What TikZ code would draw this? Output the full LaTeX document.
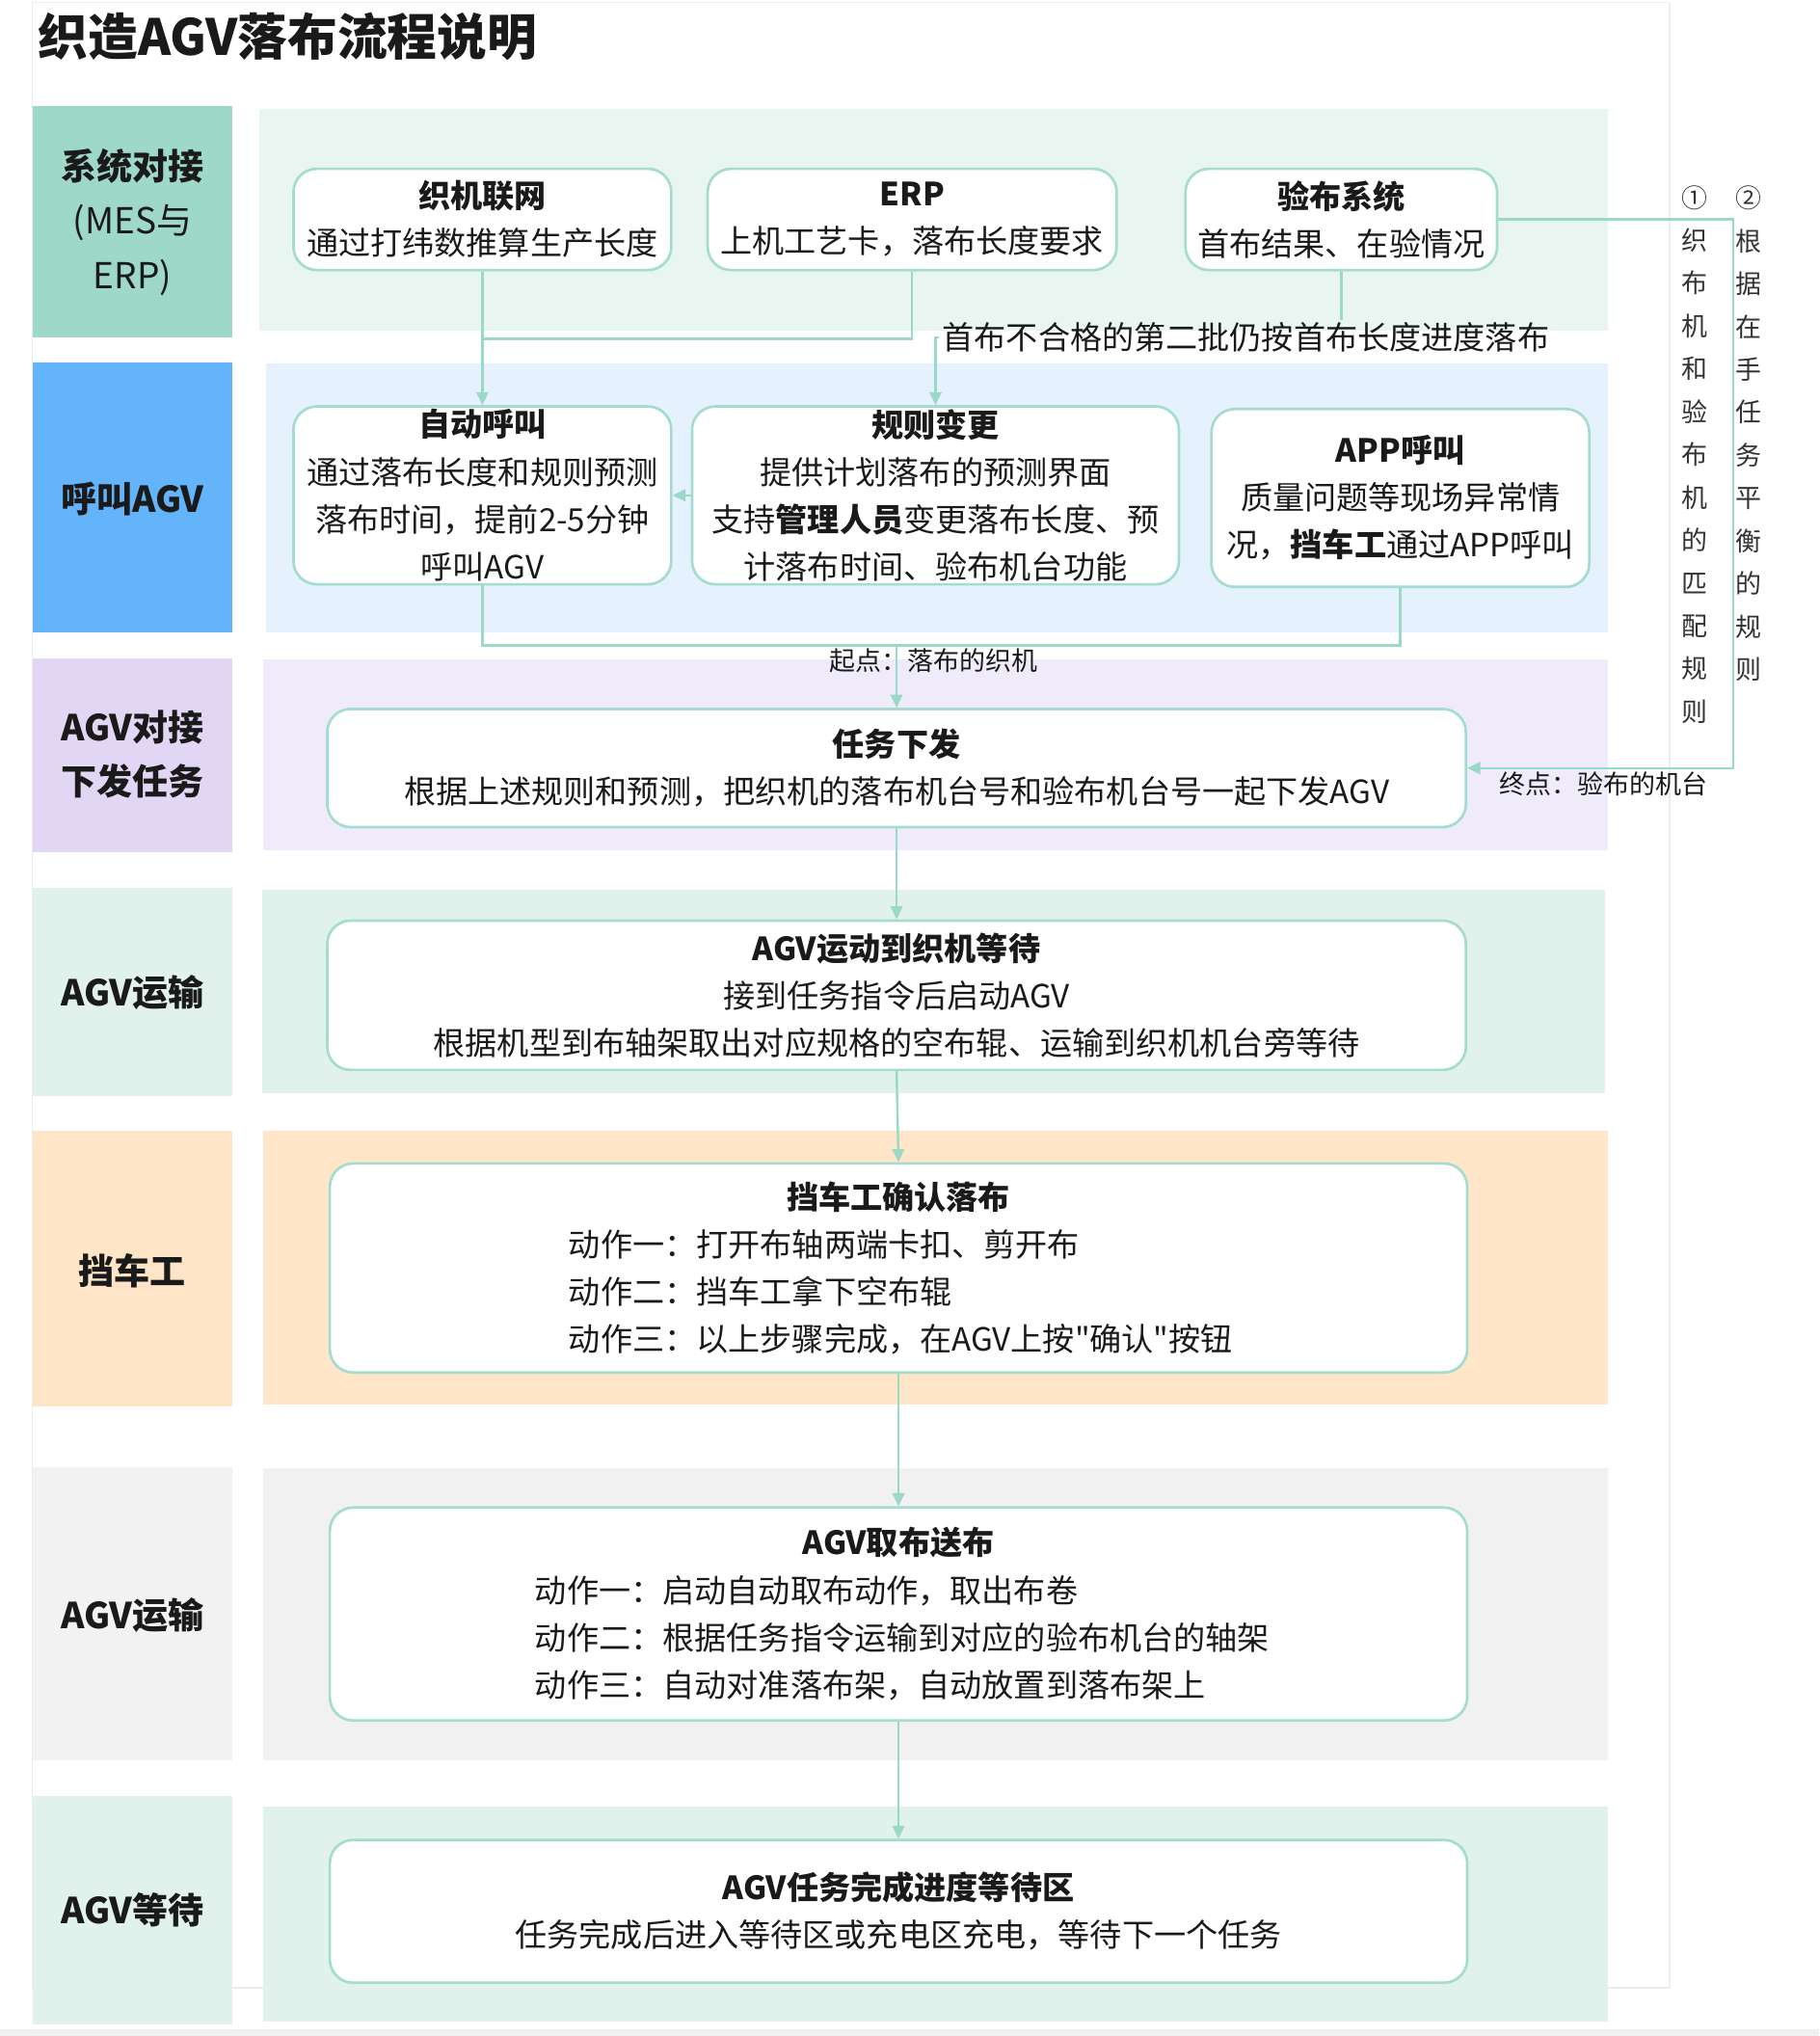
\documentclass[tikz,border=0pt]{standalone}
\usepackage{fontspec}
\setmainfont{Noto Sans CJK SC}
\newfontfamily\nq{Noto Sans CJK SC}
\usetikzlibrary{arrows.meta}
\definecolor{boxc}{HTML}{A4DDCF}
\definecolor{linec}{HTML}{9AD8C8}
\definecolor{lA}{HTML}{9ED8C9}
\definecolor{bA}{HTML}{E8F5F1}
\definecolor{lB}{HTML}{63B4FA}
\definecolor{bB}{HTML}{E5F1FD}
\definecolor{lC}{HTML}{E1D7F5}
\definecolor{bC}{HTML}{EFEBFA}
\definecolor{lD}{HTML}{E1F2EC}
\definecolor{lE}{HTML}{FFE5C8}
\definecolor{bE}{HTML}{FFE6C9}
\definecolor{lF}{HTML}{F2F2F2}
\definecolor{bF}{HTML}{F1F1F1}
\definecolor{framec}{HTML}{EDEDED}
\definecolor{txt}{HTML}{1A1A1A}
\definecolor{vtxt}{HTML}{333333}
\newcommand{\lline}[2]{\makebox[#1][l]{#2}}
\begin{document}
\begin{tikzpicture}[x=0.5pt,y=-0.5pt,
  box/.style={draw=boxc, line width=1pt, fill=white, rounded corners=9pt, align=center, inner sep=0pt, text=txt, font=\fontsize{12.3}{18.25}\selectfont},
  conn/.style={draw=linec, line width=0.9pt},
  arr/.style={conn, -{Triangle[length=5pt,width=4.6pt]}},
  lanelbl/.style={font=\bfseries\fontsize{13.75}{21}\selectfont, align=center, text=txt},
  notelbl/.style={font=\fontsize{12.3}{14}\selectfont, text=txt, inner sep=1pt},
  smalllbl/.style={font=\fontsize{10}{12}\selectfont, text=txt, inner sep=1pt},
  vt/.style={font=\fontsize{10}{16.5}\selectfont, align=center, text=vtxt, inner sep=0pt}
]
\useasboundingbox (0,0) rectangle (1401,1568);
\fill[white] (0,0) rectangle (1401,1568);
\draw[framec, line width=0.6pt] (25,2) rectangle (1286,1531);
\fill[black!6] (0,1563) rectangle (1401,1568);

% title
\node[anchor=west, font=\bfseries\fontsize{19.2}{23}\selectfont, text=txt, inner sep=0pt] (title) at (29,28) {织造AGV落布流程说明};

% lanes
\fill[lA] (25,82) rectangle (179,260);
\fill[bA] (200,84) rectangle (1238,255);
\fill[lB] (25,279) rectangle (179,487);
\fill[bB] (205,280) rectangle (1238,487);
\fill[lC] (25,507) rectangle (179,656);
\fill[bC] (203,508) rectangle (1238,655);
\fill[lD] (25,684) rectangle (179,844);
\fill[lD] (202,685) rectangle (1236,842);
\fill[lE] (25,871) rectangle (179,1083);
\fill[bE] (203,871) rectangle (1238,1082);
\fill[lF] (25,1130) rectangle (179,1356);
\fill[bF] (203,1131) rectangle (1238,1356);
\fill[lD] (25,1383) rectangle (179,1559);
\fill[lD] (203,1391) rectangle (1238,1557);

\node[lanelbl] (t1) at (102,171) {系统对接\\\mdseries (MES与\\\mdseries ERP)};
\node[lanelbl] (t2) at (102,384) {呼叫AGV};
\node[lanelbl] (t3) at (102,581) {AGV对接\\下发任务};
\node[lanelbl] (t4) at (102,764) {AGV运输};
\node[lanelbl] (t5) at (102,979) {挡车工};
\node[lanelbl] (t6) at (102,1244) {AGV运输};
\node[lanelbl] (t7) at (102,1471) {AGV等待};

% boxes
\node[box, minimum width=145.5pt, minimum height=39pt] (jw) at (371.5,169) {\textbf{织机联网}\\通过打纬数推算生产长度};
\node[box, minimum width=157.5pt, minimum height=39pt] (erp) at (702.5,169) {\textbf{ERP}\\上机工艺卡，落布长度要求};
\node[box, minimum width=120pt, minimum height=39pt] (yb) at (1033,169) {\textbf{验布系统}\\首布结果、在验情况};
\node[box, minimum width=145.5pt, minimum height=68.5pt] (zd) at (371.5,381.5) {\textbf{自动呼叫}\\通过落布长度和规则预测\\落布时间，提前2-5分钟\\呼叫AGV};
\node[box, minimum width=187.5pt, minimum height=68.5pt] (gz) at (720.5,381.5) {\textbf{规则变更}\\提供计划落布的预测界面\\支持\textbf{管理人员}变更落布长度、预\\计落布时间、验布机台功能};
\node[box, minimum width=145.5pt, minimum height=68.5pt] (app) at (1078.5,383.5) {\textbf{APP呼叫}\\质量问题等现场异常情\\况，\textbf{挡车工}通过APP呼叫};
\node[box, minimum width=438.5pt, minimum height=45.5pt] (rw) at (690.5,591.5) {\textbf{任务下发}\\根据上述规则和预测，把织机的落布机台号和验布机台号一起下发AGV};
\node[box, minimum width=438.5pt, minimum height=57.5pt] (yd) at (690.5,766.5) {\textbf{AGV运动到织机等待}\\接到任务指令后启动AGV\\根据机型到布轴架取出对应规格的空布辊、运输到织机机台旁等待};
\node[box, minimum width=438pt, minimum height=80.5pt] (dc) at (692,976.5) {\textbf{挡车工确认落布}\\\lline{254pt}{动作一：打开布轴两端卡扣、剪开布}\\\lline{254pt}{动作二：挡车工拿下空布辊}\\\lline{254pt}{动作三：以上步骤完成，在AGV上按{\nq"}确认{\nq"}按钮}};
\node[box, minimum width=438pt, minimum height=82pt] (qb) at (692,1243) {\textbf{AGV取布送布}\\\lline{280pt}{动作一：启动自动取布动作，取出布卷}\\\lline{280pt}{动作二：根据任务指令运输到对应的验布机台的轴架}\\\lline{280pt}{动作三：自动对准落布架，自动放置到落布架上}};
\node[box, minimum width=438pt, minimum height=55pt] (dd) at (692,1472) {\textbf{AGV任务完成进度等待区}\\任务完成后进入等待区或充电区充电，等待下一个任务};

% connectors
\coordinate (j1) at (371.5,261);
\draw[conn] (erp.south) |- (j1);
\draw[arr] (jw.south) -- (zd.north);
\node[notelbl] (note) at (959.5,260) {首布不合格的第二批仍按首布长度进度落布};
\draw[conn] (yb.south) -- (yb.south |- note.north);
\draw[arr] (note.west) -| (gz.north);
\draw[arr] (gz.west) -- (zd.east);
\coordinate (j3) at (690.5,497);
\draw[conn] (zd.south) |- (j3) -| (app.south);
\draw[arr] (j3) -- (rw.north);
\node[smalllbl] (start) at (719,509) {起点：落布的织机};
\coordinate (r1) at (1335,169);
\coordinate (r2) at (1335,591.5);
\draw[arr] (yb.east) -- (r1) -- (r2) -- (rw.east);
\node[smalllbl] (end) at (1235,604) {终点：验布的机台};
\draw[arr] (rw.south) -- (yd.north);
\draw[arr] (yd.south) -- (dc.north);
\draw[arr] (dc.south) -- (qb.north);
\draw[arr] (qb.south) -- (dd.north);

% vertical texts
\node[vt] (v1) at (1305,350) {①\\织\\布\\机\\和\\验\\布\\机\\的\\匹\\配\\规\\则};
\node[vt] (v2) at (1347,334) {②\\根\\据\\在\\手\\任\\务\\平\\衡\\的\\规\\则};
\end{tikzpicture}
\end{document}
